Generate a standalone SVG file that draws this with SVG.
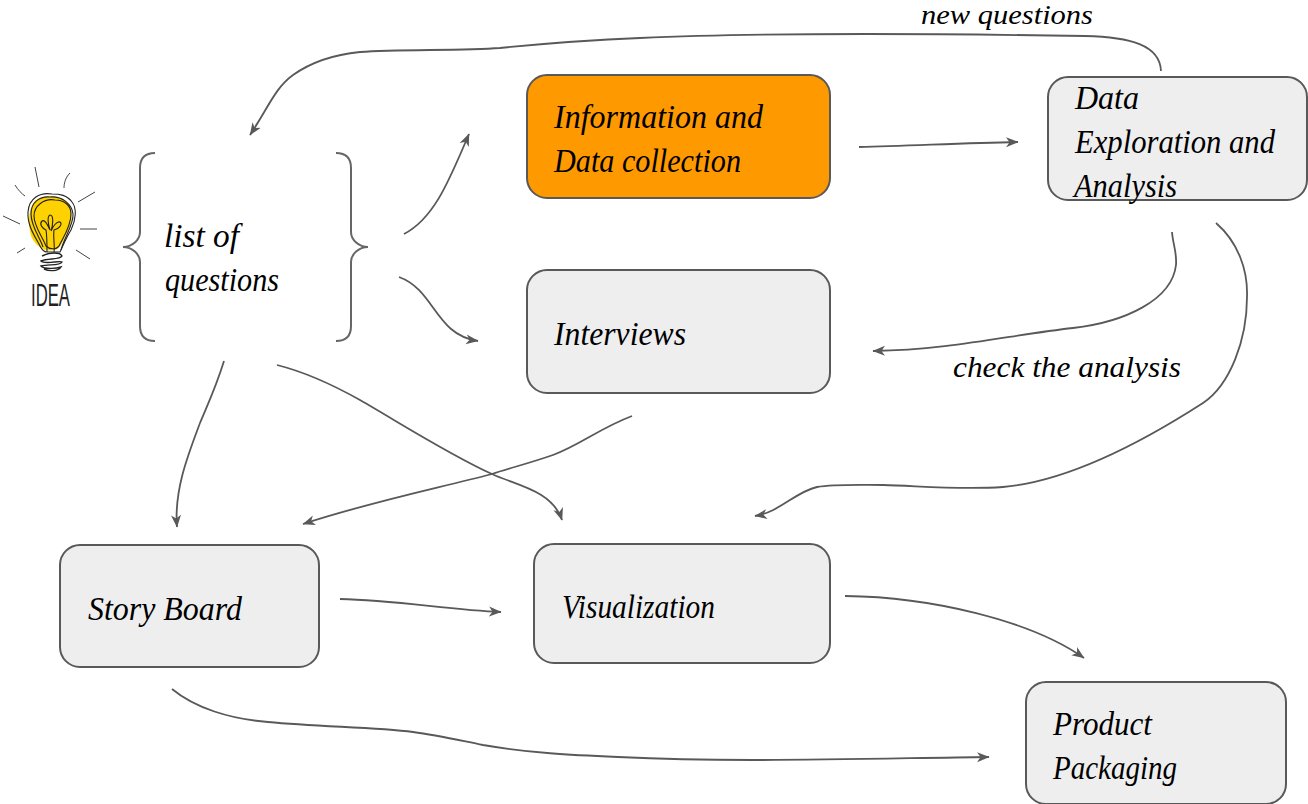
<svg xmlns="http://www.w3.org/2000/svg" width="1308" height="804" viewBox="0 0 1308 804">
<style>
.box{fill:#eeeeee;stroke:#595959;stroke-width:2}
.c{fill:none;stroke:#595959;stroke-width:1.8}
.br{fill:none;stroke:#666666;stroke-width:2}
.t{font-family:"Liberation Serif",serif;font-style:italic;font-size:33px;fill:#000}
.b{fill:none;stroke:#222;stroke-width:1.1}
.r{fill:none;stroke:#444;stroke-width:1}
</style>
<defs>
<marker id="a" viewBox="0 0 13 11" refX="12" refY="5.5" markerWidth="13" markerHeight="11" markerUnits="userSpaceOnUse" orient="auto"><path d="M0 0.5L12.5 5.5L0 10.5L3.5 5.5Z" fill="#595959"/></marker>
</defs>
<rect width="1308" height="804" fill="#fff"/>
<g id="connectors">
<path class="c" marker-end="url(#a)" d="M1161 71C1160 45 1130 37 1085 36C900 33 750 33 640 38C590 40 540 44 500 48C460 51 400 49 360 52C330 55 310 63 293 75C275 88 268 108 250 135"/>
<path class="c" marker-end="url(#a)" d="M404 234C435 218 450 178 469 134"/>
<path class="c" marker-end="url(#a)" d="M399 277C435 290 435 335 478 341"/>
<path class="c" marker-end="url(#a)" d="M859 147C910 146 960 143 1018 142"/>
<path class="c" marker-end="url(#a)" d="M1172 232C1173 245 1177 252 1176 265C1172 300 1125 322 1073 328C1010 335 950 350 873 351"/>
<path class="c" marker-end="url(#a)" d="M1216 223C1238 242 1248 270 1247 297C1247 340 1230 385 1203 403C1130 450 1060 482 1003 487C960 490 920 486 883 485C860 485 835 484 817 487C795 492 780 512 755 516"/>
<path class="c" marker-end="url(#a)" d="M632 416C600 428 580 445 553 455C530 463 510 468 492 474C430 490 370 502 303 524"/>
<path class="c" marker-end="url(#a)" d="M224 361C215 390 206 408 200 423C188 455 174 490 177 527"/>
<path class="c" marker-end="url(#a)" d="M277 365C305 372 335 386 360 400C400 423 450 455 492 474C515 485 552 490 562 520"/>
<path class="c" marker-end="url(#a)" d="M340 599C395 600 450 610 501 612"/>
<path class="c" marker-end="url(#a)" d="M845 596C930 597 1030 620 1084 658"/>
<path class="c" marker-end="url(#a)" d="M172 689C195 708 230 719 268 722C320 727 375 727 413 732C437 735 458 740 483 745C530 753 570 755 618 757C680 760 720 760 752 760C830 760 910 758 989 757"/>
</g>
<g id="idea">
<path fill="#fed200" d="M36 200C45 194 62 195 68 203C74 212 72 225 66 235C62 243 60 250 54 250C44 252 36 246 32 238C28 228 27 208 36 200Z"/>
<g class="b">
<path d="M52 194C40 192 29 198 28 212C27 226 36 238 40 246C42 250 44 252 47 252L60 252C63 246 66 238 71 230C76 220 77 208 72 202C67 195 60 194 52 194Z"/>
<path d="M50 197C40 196 31 202 31 214C31 226 40 238 43 247M50 197C62 196 72 204 73 214C74 224 64 238 61 250"/>
<path d="M55 200C44 198 34 206 34 216C34 226 42 236 46 246C50 250 58 250 60 244C64 236 71 226 71 214C71 206 65 200 55 200"/>
<path d="M47 252C47 242 47 236 46 230C42 228 39 224 42 221C45 219 48 226 50 230C48 224 47 216 50 215C54 215 53 225 51 231C53 226 57 221 60 222C63 224 59 229 54 230C53 238 55 245 54 252"/>
<path stroke-width="1.4" d="M42 256C50 252 60 252 62 256C60 260 48 258 41 261C45 265 60 260 62 262C60 266 48 264 41 266C45 270 58 268 61 267C58 272 48 271 44 269"/>
</g>
<path class="r" d="M35 167L39 187M70 173C65 178 64 184 64 188M15 185C18 190 22 194 25 196M95 192L78 202M3 216L20 224M97 229L80 229M17 253L25 248M90 259L76 250"/>
<text x="31" y="306" font-family="'Liberation Sans',sans-serif" font-size="31" fill="#222" textLength="39" lengthAdjust="spacingAndGlyphs">IDEA</text>
</g>
<g id="questions">
<path class="br" d="M155 153C145 153 140 158 140 168L140 232C140 240 132 247 123 247C132 247 140 254 140 262L140 326C140 336 145 341 155 341"/>
<path class="br" d="M336 153C346 153 351 158 351 168L351 232C351 240 359 247 368 247C359 247 351 254 351 262L351 326C351 336 346 341 336 341"/>
<text class="t" x="164" y="247" textLength="75" lengthAdjust="spacingAndGlyphs">list of</text>
<text class="t" x="165" y="291" textLength="114" lengthAdjust="spacingAndGlyphs">questions</text>
</g>
<g id="information">
<rect x="527" y="75" width="303" height="123" rx="20" fill="#ff9900" stroke="#595959" stroke-width="2"/>
<text class="t" x="554" y="128" textLength="209" lengthAdjust="spacingAndGlyphs">Information and</text>
<text class="t" x="554" y="172" textLength="187" lengthAdjust="spacingAndGlyphs">Data collection</text>
</g>
<g id="exploration">
<rect class="box" x="1048" y="77" width="259" height="123" rx="20"/>
<text class="t" x="1075" y="109" textLength="64" lengthAdjust="spacingAndGlyphs">Data</text>
<text class="t" x="1075" y="153" textLength="200" lengthAdjust="spacingAndGlyphs">Exploration and</text>
<text class="t" x="1074" y="197" textLength="103" lengthAdjust="spacingAndGlyphs">Analysis</text>
</g>
<g id="interviews">
<rect class="box" x="527" y="270" width="303" height="123" rx="20"/>
<text class="t" x="554" y="345" textLength="132" lengthAdjust="spacingAndGlyphs">Interviews</text>
</g>
<g id="storyboard">
<rect class="box" x="60" y="545" width="259" height="122" rx="20"/>
<text class="t" x="88" y="620" textLength="154" lengthAdjust="spacingAndGlyphs">Story Board</text>
</g>
<g id="visualization">
<rect class="box" x="534" y="544" width="296" height="119" rx="20"/>
<text class="t" x="562" y="618" textLength="153" lengthAdjust="spacingAndGlyphs">Visualization</text>
</g>
<g id="product">
<rect class="box" x="1026" y="682" width="260" height="122" rx="20"/>
<text class="t" x="1053" y="735" textLength="99" lengthAdjust="spacingAndGlyphs">Product</text>
<text class="t" x="1053" y="779" textLength="124" lengthAdjust="spacingAndGlyphs">Packaging</text>
</g>
<g id="labels">
<text class="t" x="921" y="24" style="font-size:28px" textLength="172" lengthAdjust="spacingAndGlyphs">new questions</text>
<text class="t" x="953" y="377" style="font-size:30px" textLength="228" lengthAdjust="spacingAndGlyphs">check the analysis</text>
</g>
</svg>
